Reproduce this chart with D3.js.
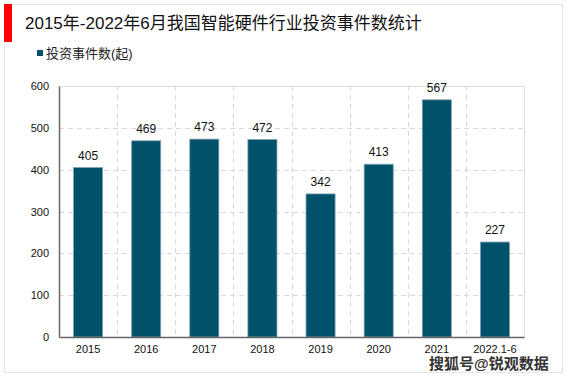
<!DOCTYPE html>
<html>
<head>
<meta charset="utf-8">
<script src="https://cdn.jsdelivr.net/npm/d3@7"></script>
<style>
  body { margin: 0; background: #fff; }
  text { font-family: "Liberation Sans", Arial, "Noto Sans CJK SC", sans-serif; }
</style>
</head>
<body>
<div id="chart"></div>
<script>
// data
const years = ["2015", "2016", "2017", "2018", "2019", "2020", "2021", "2022.1-6"];
const events = [405, 469, 473, 472, 342, 413, 567, 227];
const yTicks = [0, 100, 200, 300, 400, 500, 600];
const titleText = "2015年-2022年6月我国智能硬件行业投资事件数统计";
const seriesName = "投资事件数(起)";

const width = 567;
const height = 378;
const margin = {left: 59, right: 43, top: 86, bottom: 41};

const svg = d3.select("#chart")
    .append("svg")
    .attr("width", width)
    .attr("height", height);

// outer frame
svg.append("rect")
    .attr("x", 4.5).attr("y", 4.5)
    .attr("width", 558).attr("height", 368)
    .attr("fill", "#fff")
    .attr("stroke", "#e3e3e3");

// red marker + title
svg.append("rect")
    .attr("x", 4).attr("y", 4)
    .attr("width", 8).attr("height", 38)
    .attr("fill", "#ff0000");

svg.append("text")
    .attr("x", 25).attr("y", 29)
    .attr("font-size", "17px")
    .attr("fill", "#111")
    .text(titleText);

// legend
svg.append("rect")
    .attr("x", 37).attr("y", 50)
    .attr("width", 6).attr("height", 6)
    .attr("fill", "#02516b");
svg.append("text")
    .attr("x", 46).attr("y", 58)
    .attr("font-size", "13px")
    .attr("fill", "#222")
    .text(seriesName);

const xScale = d3.scaleBand()
    .domain(years)
    .range([margin.left, width - margin.right])
    .paddingInner(0.5)
    .paddingOuter(0.25);

const yScale = d3.scaleLinear()
    .domain([0, 600])
    .range([height - margin.bottom, margin.top]);

const x0 = margin.left, x1 = width - margin.right;
const y0 = height - margin.bottom, y1 = margin.top;
const step = xScale.step();

// horizontal dashed grid
svg.append("g")
    .selectAll("line")
    .data(yTicks.filter(d => d > 0 && d < 600))
    .enter()
    .append("line")
    .attr("x1", x0).attr("x2", x1)
    .attr("y1", d => Math.round(yScale(d)) + 0.5)
    .attr("y2", d => Math.round(yScale(d)) + 0.5)
    .attr("stroke", "#d9d9d9")
    .attr("stroke-dasharray", "5,4");

// vertical dashed grid between categories
svg.append("g")
    .selectAll("line")
    .data(years.slice(1))
    .enter()
    .append("line")
    .attr("x1", d => Math.round(xScale(d) - step * 0.25) + 0.5)
    .attr("x2", d => Math.round(xScale(d) - step * 0.25) + 0.5)
    .attr("y1", y1).attr("y2", y0)
    .attr("stroke", "#d9d9d9")
    .attr("stroke-dasharray", "5,4");

// top + right frame of plot
svg.append("path")
    .attr("d", `M${x0},${y1 + 0.5}H${x1 + 0.5}V${y0}`)
    .attr("fill", "none")
    .attr("stroke", "#dedede");

// bars
svg.append("g")
    .selectAll("rect")
    .data(events)
    .enter()
    .append("rect")
    .attr("x", (d, i) => xScale(years[i]))
    .attr("y", d => yScale(d))
    .attr("width", xScale.bandwidth())
    .attr("height", d => y0 - yScale(d))
    .attr("fill", "#02516b")
    .attr("stroke", "#7ea3b2")
    .attr("stroke-width", 0.8);

// value labels
svg.append("g")
    .selectAll("text")
    .data(events)
    .enter()
    .append("text")
    .attr("x", (d, i) => xScale(years[i]) + xScale.bandwidth() / 2)
    .attr("y", d => yScale(d) - 8)
    .attr("text-anchor", "middle")
    .attr("font-size", "12px")
    .attr("fill", "#111")
    .text(d => d);

// axes
const yAxis = svg.append("g")
    .attr("transform", `translate(${x0},0)`)
    .call(d3.axisLeft(yScale).tickValues(yTicks).tickSize(0).tickPadding(10));
yAxis.select(".domain").attr("stroke", "#666").attr("stroke-width", 1.5);
yAxis.selectAll("text").attr("font-size", "11px").attr("fill", "#111");

const xAxis = svg.append("g")
    .attr("transform", `translate(0,${y0})`)
    .call(d3.axisBottom(xScale).tickSize(0).tickPadding(8));
xAxis.select(".domain").attr("stroke", "#666").attr("stroke-width", 1.5);
xAxis.selectAll("text").attr("font-size", "11px").attr("fill", "#111");

// watermark
svg.append("text")
    .attr("x", 429).attr("y", 369)
    .attr("font-size", "15px")
    .attr("font-weight", "bold")
    .attr("fill", "#333")
    .attr("stroke", "#fff")
    .attr("stroke-width", 2.5)
    .attr("paint-order", "stroke")
    .text("搜狐号@锐观数据");
</script>
</body>
</html>
